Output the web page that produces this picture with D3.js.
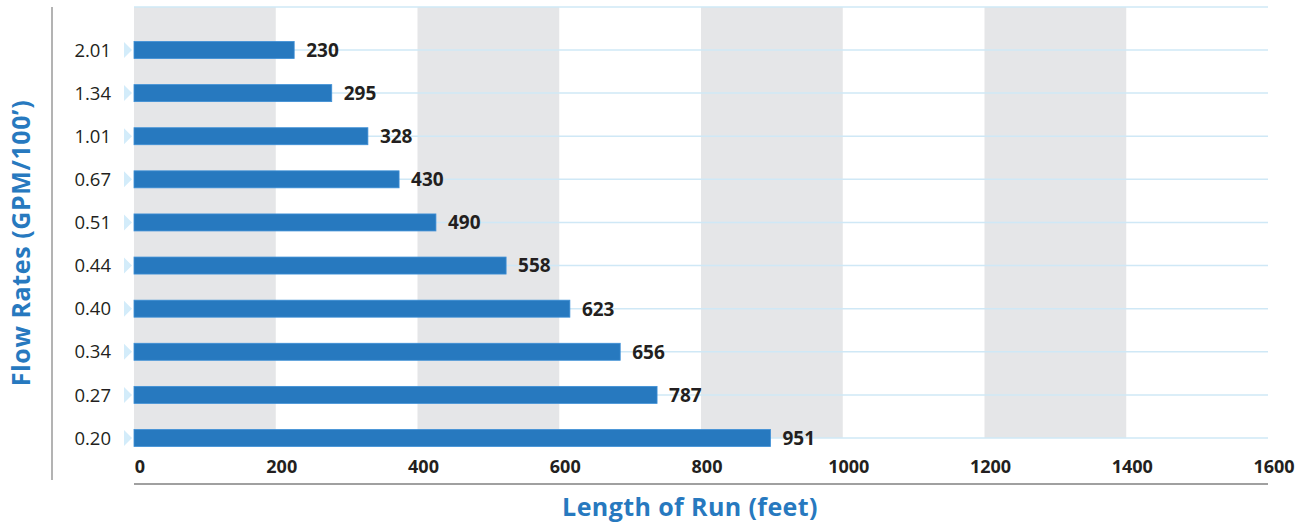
<!DOCTYPE html>
<html>
<head>
<meta charset="utf-8">
<script src="https://cdn.jsdelivr.net/npm/d3@7"></script>
<style>
  body { margin: 0; background: #fff; }
  svg { display: block; font-family: "Open Sans", sans-serif; }
</style>
</head>
<body>
<div id="chart"></div>
<script>
// flow rate categories, top to bottom
const flowRates = ["2.01", "1.34", "1.01", "0.67", "0.51", "0.44", "0.40", "0.34", "0.27", "0.20"];
// bar lengths as drawn in the picture (feet)
const barLengths = [226, 279, 330, 374, 426, 525, 615, 686, 738, 898];
// printed value labels
const valueLabels = ["230", "295", "328", "430", "490", "558", "623", "656", "787", "951"];
const xTicks = [0, 200, 400, 600, 800, 1000, 1200, 1400, 1600];
const shadedBands = [[0, 200], [400, 600], [800, 1000], [1200, 1400]];

const chartWidth = 1302, chartHeight = 524;
const blue = "#2779bf";

const svg = d3.select("#chart").append("svg")
    .attr("width", chartWidth)
    .attr("height", chartHeight);

const x = d3.scaleLinear().domain([0, 1600]).range([134, 1268]);
const y = d3.scalePoint().domain(flowRates).range([50, 438]);
const step = y.step();
const plotTop = y(flowRates[0]) - step;
const plotBottom = y(flowRates[flowRates.length - 1]);

// grey column bands
svg.append("g").selectAll("rect")
    .data(shadedBands)
    .enter().append("rect")
    .attr("x", d => x(d[0]))
    .attr("width", d => x(d[1]) - x(d[0]))
    .attr("y", plotTop)
    .attr("height", plotBottom - plotTop)
    .attr("fill", "#e5e6e8");

// light blue horizontal lines
const gridYs = [plotTop].concat(flowRates.map(d => y(d)));
svg.append("g").selectAll("line")
    .data(gridYs)
    .enter().append("line")
    .attr("x1", x(0)).attr("x2", x(1600))
    .attr("y1", d => d).attr("y2", d => d)
    .attr("stroke", "#cfe8f6")
    .attr("stroke-width", 1.5);

// left vertical rule
svg.append("line")
    .attr("x1", 52).attr("x2", 52)
    .attr("y1", plotTop).attr("y2", 480)
    .attr("stroke", "#9a9a9a")
    .attr("stroke-width", 1.5);

// small triangles next to category labels
svg.append("g").selectAll("path")
    .data(flowRates)
    .enter().append("path")
    .attr("d", d => `M${x(0) - 10},${y(d) - 8} L${x(0) - 2},${y(d)} L${x(0) - 10},${y(d) + 8} Z`)
    .attr("fill", "#d3ecfa");

// category labels
svg.append("g").selectAll("text")
    .data(flowRates)
    .enter().append("text")
    .attr("x", 111)
    .attr("y", d => y(d))
    .attr("dy", "0.36em")
    .attr("text-anchor", "end")
    .attr("font-size", 18.5)
    .attr("fill", "#231f20")
    .text(d => d);

// bars
const barH = 17;
svg.append("g").selectAll("rect")
    .data(flowRates)
    .enter().append("rect")
    .attr("x", x(0))
    .attr("y", d => y(d) - barH / 2)
    .attr("width", (d, i) => x(barLengths[i]) - x(0))
    .attr("height", barH)
    .attr("fill", blue)
    .attr("stroke", "#3d8fd6")
    .attr("stroke-width", 0.8);

// value labels
svg.append("g").selectAll("text")
    .data(flowRates)
    .enter().append("text")
    .attr("x", (d, i) => x(barLengths[i]) + 12)
    .attr("y", d => y(d))
    .attr("dy", "0.36em")
    .attr("font-size", 19)
    .attr("font-weight", 700)
    .attr("fill", "#231f20")
    .text((d, i) => valueLabels[i]);

// x tick labels
svg.append("g").selectAll("text")
    .data(xTicks)
    .enter().append("text")
    .attr("x", d => x(d) + 6)
    .attr("y", 467)
    .attr("dy", "0.36em")
    .attr("text-anchor", "middle")
    .attr("font-size", 18)
    .attr("font-weight", 700)
    .attr("fill", "#231f20")
    .text(d => d);

// x axis line
svg.append("line")
    .attr("x1", x(0)).attr("x2", x(1600))
    .attr("y1", 484).attr("y2", 484)
    .attr("stroke", "#a0a0a0")
    .attr("stroke-width", 2);

// axis titles
svg.append("text")
    .attr("x", 690)
    .attr("y", 507)
    .attr("dy", "0.36em")
    .attr("text-anchor", "middle")
    .attr("font-size", 25)
    .attr("font-weight", 700)
    .attr("letter-spacing", 0.4)
    .attr("fill", blue)
    .text("Length of Run (feet)");

svg.append("text")
    .attr("transform", "translate(21, 243) rotate(-90)")
    .attr("dy", "0.36em")
    .attr("text-anchor", "middle")
    .attr("font-size", 25)
    .attr("font-weight", 700)
    .attr("letter-spacing", 0.6)
    .attr("fill", blue)
    .text("Flow Rates (GPM/100’)");
</script>
</body>
</html>
